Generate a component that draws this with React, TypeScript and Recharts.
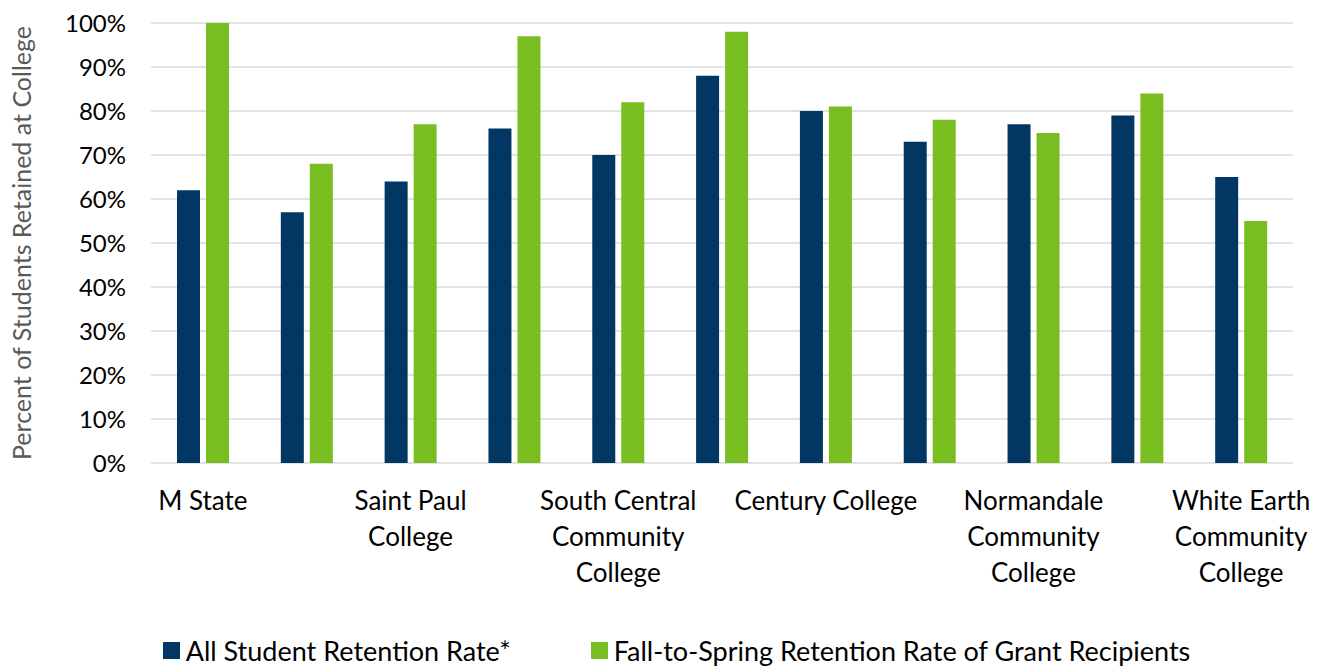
import React from "react";
import { BarChart, Bar, XAxis, YAxis, CartesianGrid, Legend, Label } from "recharts";

const colleges = [
  "M State",
  "Minneapolis College",
  "Saint Paul College",
  "Riverland Community College",
  "South Central Community College",
  "Lake Superior College",
  "Century College",
  "Inver Hills Community College",
  "Normandale Community College",
  "Hennepin Technical College",
  "White Earth Community College",
];
const allStudentRate = [62, 57, 64, 76, 70, 88, 80, 73, 77, 79, 65];
const grantRecipientRate = [100, 68, 77, 97, 82, 98, 81, 78, 75, 84, 55];
const yTicks = [0, 10, 20, 30, 40, 50, 60, 70, 80, 90, 100];

const SERIES = [
  { key: "allStudents", name: "All Student Retention Rate*", color: "#023763" },
  { key: "grantRecipients", name: "Fall-to-Spring Retention Rate of Grant Recipients", color: "#78be21" },
];

const FONT = "Lato, 'Open Sans', sans-serif";
const TICK_SIZE = 26;

const data = colleges.map((college, i) => ({
  college,
  allStudents: allStudentRate[i],
  grantRecipients: grantRecipientRate[i],
}));

// word wrap measured with a canvas, Excel breaks these around ~190px
let ctx: CanvasRenderingContext2D | null = null;
function wrapLabel(label: string, maxWidth: number): string[] {
  if (!ctx) ctx = document.createElement("canvas").getContext("2d");
  if (ctx) ctx.font = `${TICK_SIZE}px ${FONT}`;
  const measure = (s: string) => (ctx ? ctx.measureText(s).width : s.length * TICK_SIZE * 0.5);
  const lines: string[] = [];
  let cur = "";
  for (const word of label.split(" ")) {
    const next = cur ? `${cur} ${word}` : word;
    if (cur && measure(next) > maxWidth) {
      lines.push(cur);
      cur = word;
    } else {
      cur = next;
    }
  }
  if (cur) lines.push(cur);
  return lines;
}

const CollegeTick = ({ x, y, payload }: any) => {
  const lines = wrapLabel(String(payload.value), 190);
  return (
    <text x={x} y={y} textAnchor="middle" fill="#000" style={{ fontFamily: FONT, fontSize: TICK_SIZE }}>
      {lines.map((line, i) => (
        <tspan key={i} x={x} dy={i === 0 ? 19 : 36}>
          {line}
        </tspan>
      ))}
    </text>
  );
};

const LegendBox = () => (
  <div
    style={{
      display: "flex",
      justifyContent: "center",
      alignItems: "center",
      height: 60,
      paddingTop: 28,
      paddingLeft: 60,
      boxSizing: "border-box",
      fontFamily: FONT,
      fontSize: 27,
      color: "#000",
    }}
  >
    {SERIES.map((s, i) => (
      <div key={s.key} style={{ display: "flex", alignItems: "center", marginRight: i === 0 ? 80 : 0 }}>
        <span style={{ width: 17, height: 17, background: s.color, marginRight: 6, display: "inline-block" }} />
        <span>{s.name}</span>
      </div>
    ))}
  </div>
);

export default function App() {
  return (
    <div style={{ width: 1327, height: 666, background: "#fff" }}>
      <style>{`body{margin:0}`}</style>
      <BarChart
        width={1327}
        height={666}
        data={data}
        margin={{ top: 23, right: 34, left: 0, bottom: 0 }}
        barSize={23}
        barGap={6}
      >
        <CartesianGrid vertical={false} stroke="#d9d9d9" strokeWidth={1.5} />
        <XAxis
          dataKey="college"
          interval={1}
          axisLine={false}
          tickLine={false}
          tickSize={0}
          tickMargin={28}
          height={143}
          tick={<CollegeTick />}
        />
        <YAxis
          width={151}
          domain={[0, 100]}
          ticks={yTicks}
          tickFormatter={(v: number) => `${v}%`}
          axisLine={false}
          tickLine={false}
          tickSize={0}
          tickMargin={25}
          tick={{ fontFamily: FONT, fontSize: 24, fill: "#000" }}
        >
          <Label
            value="Percent of Students Retained at College"
            angle={-90}
            position="insideLeft"
            offset={22}
            style={{ textAnchor: "middle", fontFamily: FONT, fontSize: 25, fill: "#595959" }}
          />
        </YAxis>
        <Legend verticalAlign="bottom" height={60} content={<LegendBox />} />
        {SERIES.map((s) => (
          <Bar key={s.key} dataKey={s.key} name={s.name} fill={s.color} isAnimationActive={false} />
        ))}
      </BarChart>
    </div>
  );
}
